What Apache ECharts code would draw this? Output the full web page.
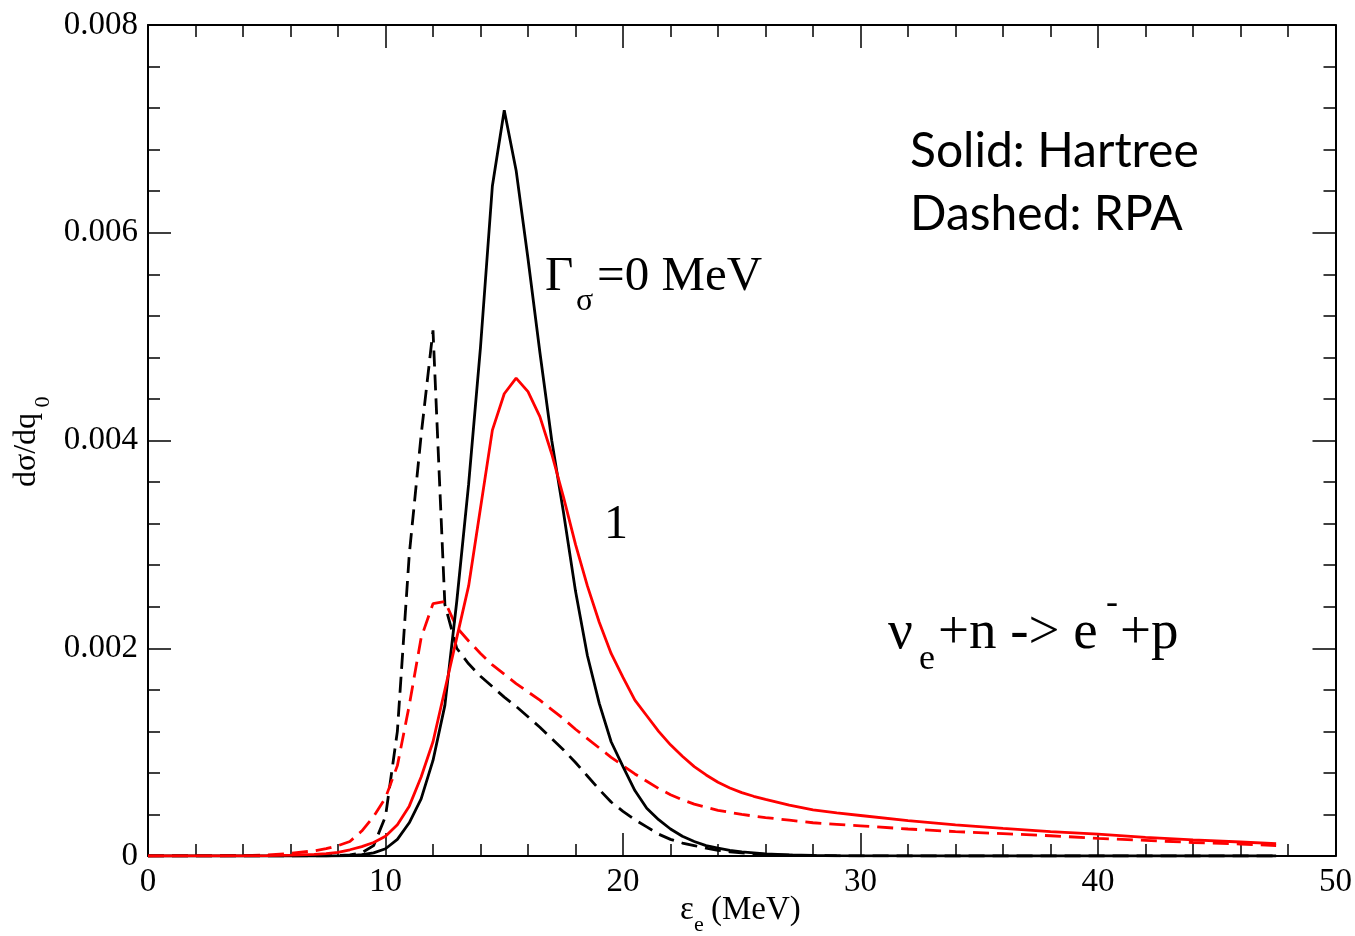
<!DOCTYPE html>
<html>
<head>
<meta charset="utf-8">
<script src="https://cdn.jsdelivr.net/npm/echarts@6/dist/echarts.min.js"></script>
<style>
  html, body { margin: 0; padding: 0; background: #fff; }
  #chart { width: 1355px; height: 936px; }
</style>
</head>
<body>
<div id="chart"></div>
<script>
// Electron energy grid (MeV)
const energy = [0, 2, 4, 5, 6, 7, 7.5, 8, 8.5, 9, 9.5, 10, 10.5, 11, 11.5, 12, 12.5, 13, 13.5, 14,
  14.5, 15, 15.5, 16, 16.5, 17, 17.5, 18, 18.5, 19, 19.5, 20, 20.5, 21, 21.5, 22, 22.5, 23, 23.5, 24,
  24.5, 25, 25.5, 26, 27, 28, 29, 30, 32, 34, 36, 38, 40, 42, 44, 46, 47.5];

// dσ/dq0 in units of 1e-3
const hartreeG0 = [0, 0, 0, 0, 0, 0, 0, 0.001, 0.004, 0.012, 0.03, 0.07, 0.16, 0.32, 0.55, 0.92, 1.45, 2.45, 3.58, 4.9,
  6.45, 7.18, 6.6, 5.75, 4.85, 4.0, 3.3, 2.55, 1.93, 1.47, 1.1, 0.86, 0.63, 0.46, 0.35, 0.26, 0.19, 0.14, 0.1, 0.075,
  0.055, 0.04, 0.03, 0.02, 0.01, 0.005, 0.003, 0.002, 0.001, 0, 0, 0, 0, 0, 0, 0, 0];
const rpaG0 = [0, 0, 0, 0, 0, 0.001, 0.002, 0.004, 0.01, 0.03, 0.1, 0.38, 1.2, 2.9, 4.05, 5.06, 2.42, 2.0, 1.85, 1.73,
  1.63, 1.53, 1.44, 1.34, 1.24, 1.13, 1.02, 0.9, 0.77, 0.64, 0.52, 0.43, 0.35, 0.28, 0.21, 0.16, 0.125, 0.1, 0.075, 0.055,
  0.04, 0.03, 0.022, 0.015, 0.008, 0.004, 0.002, 0.001, 0, 0, 0, 0, 0, 0, 0, 0, 0];
const hartreeG1 = [0, 0.0005, 0.002, 0.004, 0.008, 0.015, 0.022, 0.035, 0.06, 0.09, 0.13, 0.19, 0.3, 0.48, 0.76, 1.1, 1.6, 2.1, 2.6, 3.35,
  4.1, 4.45, 4.6, 4.47, 4.23, 3.87, 3.45, 3.0, 2.6, 2.25, 1.95, 1.72, 1.5, 1.35, 1.2, 1.07, 0.96, 0.86, 0.78, 0.71,
  0.655, 0.61, 0.575, 0.545, 0.49, 0.445, 0.415, 0.39, 0.34, 0.3, 0.265, 0.235, 0.21, 0.18, 0.155, 0.135, 0.12];
const rpaG1 = [0, 0.001, 0.004, 0.01, 0.025, 0.05, 0.07, 0.1, 0.14, 0.24, 0.38, 0.56, 0.87, 1.45, 2.1, 2.43, 2.45, 2.2, 2.07, 1.95,
  1.84, 1.75, 1.66, 1.58, 1.5, 1.41, 1.32, 1.22, 1.13, 1.04, 0.95, 0.87, 0.79, 0.72, 0.65, 0.59, 0.54, 0.5, 0.47, 0.44,
  0.42, 0.4, 0.385, 0.37, 0.345, 0.32, 0.305, 0.29, 0.26, 0.235, 0.215, 0.195, 0.17, 0.15, 0.13, 0.115, 0.1];
const UNIT = 1e-3;

const xTicks = { min: 0, max: 50, interval: 10 };
const yTicks = { min: 0, max: 0.008, interval: 0.002 };

const serif = 'Liberation Serif';
const sans = 'Lato';

function pairs(ys) {
  return energy.map((e, i) => [e, ys[i] * UNIT]);
}

function axisBase(pos, showLabel, minorSplit) {
  return {
    type: 'value',
    position: pos,
    axisLine: { show: true, onZero: false, lineStyle: { color: '#000', width: 2 } },
    axisTick: { show: true, inside: true, length: 23, lineStyle: { color: '#000', width: 1.5 } },
    minorTick: { show: true, splitNumber: minorSplit, length: 12, lineStyle: { color: '#000', width: 1.5 } },
    splitLine: { show: false },
    minorSplitLine: { show: false },
    axisLabel: { show: showLabel, fontFamily: serif, fontSize: 33, color: '#000', margin: 10 }
  };
}

const xBottom = Object.assign(axisBase('bottom', true, 5), xTicks);
const xTop = Object.assign(axisBase('top', false, 5), xTicks);
const yLeft = Object.assign(axisBase('left', true, 5), yTicks);
yLeft.axisLabel.formatter = v => (v === 0 ? '0' : v.toFixed(3));
const yRight = Object.assign(axisBase('right', false, 5), yTicks);

function line(name, ys, color, dashed) {
  return {
    name: name,
    type: 'line',
    xAxisIndex: 0,
    yAxisIndex: 0,
    data: pairs(ys),
    showSymbol: false,
    symbol: 'none',
    smooth: false,
    lineStyle: { color: color, width: 2.8, type: dashed ? [16, 8] : 'solid' },
    z: dashed ? 3 : 4
  };
}

function txt(x, y, text, size, family, extra) {
  return Object.assign({
    type: 'text',
    x: x,
    y: y,
    style: {
      text: text,
      font: size + 'px "' + family + '"',
      fill: '#000',
      textAlign: 'left',
      verticalAlign: 'middle'
    },
    z: 10
  }, extra || {});
}

const chart = echarts.init(document.getElementById('chart'), null, { renderer: 'canvas' });
chart.setOption({
  animation: false,
  backgroundColor: '#fff',
  grid: { left: 148, right: 19, top: 25, bottom: 80, containLabel: false },
  xAxis: [xBottom, xTop],
  yAxis: [yLeft, yRight],
  series: [
    line('Hartree Γ=0', hartreeG0, '#000', false),
    line('RPA Γ=0', rpaG0, '#000', true),
    line('Hartree Γ=1', hartreeG1, '#ff0000', false),
    line('RPA Γ=1', rpaG1, '#ff0000', true)
  ],
  graphic: [
    txt(910, 152, 'Solid: Hartree', 48, sans),
    txt(910, 215, 'Dashed: RPA', 48, sans),
    txt(545, 277, 'Γ', 49, serif),
    txt(576, 302, 'σ', 32, serif),
    txt(597, 277, '=0 MeV', 49, serif),
    txt(604, 525, '1', 48, serif),
    txt(888, 634, 'ν', 55, serif),
    txt(919, 660, 'e', 36, serif),
    txt(938, 634, '+n -> e', 55, serif),
    txt(1106, 604, '-', 36, serif),
    txt(1120, 634, '+p', 55, serif),
    // axis titles
    {
      type: 'text', x: 27, y: 450, rotation: Math.PI / 2,
      style: { text: 'dσ/dq', font: '32px "' + serif + '"', fill: '#000', textAlign: 'center', verticalAlign: 'middle' },
      z: 10
    },
    {
      type: 'text', x: 43, y: 402, rotation: Math.PI / 2,
      style: { text: '0', font: '22px "' + serif + '"', fill: '#000', textAlign: 'center', verticalAlign: 'middle' },
      z: 10
    },
    txt(680, 910, 'ε', 33, serif),
    txt(694, 925, 'e', 22, serif),
    txt(711, 910, '(MeV)', 33, serif)
  ]
});
</script>
</body>
</html>
